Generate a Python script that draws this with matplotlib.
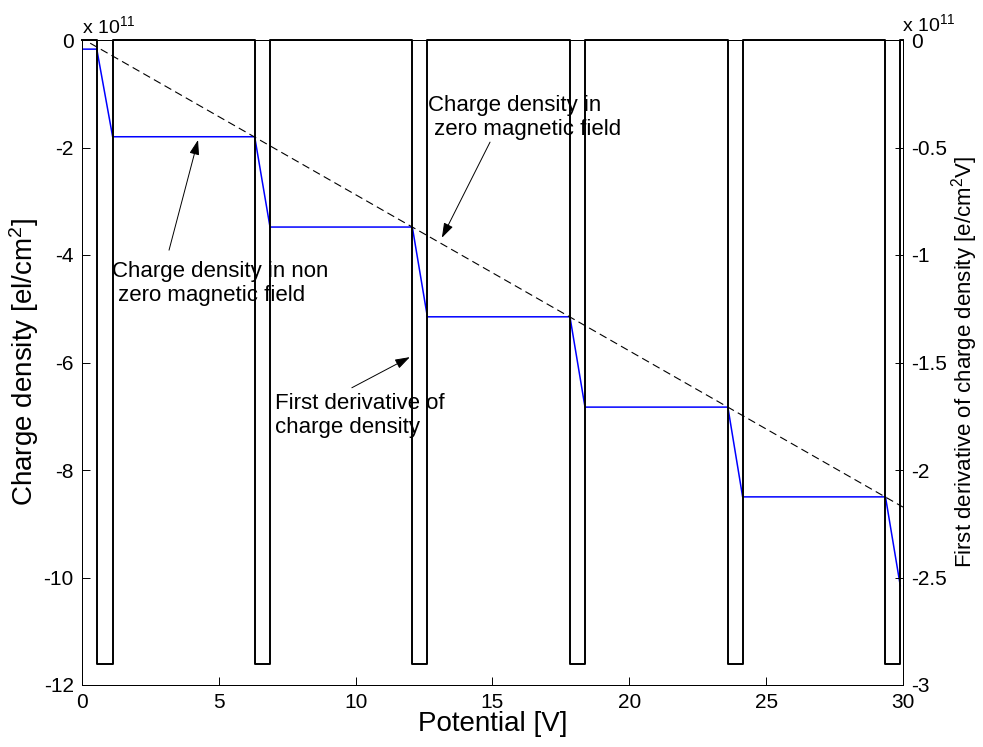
import numpy as np
import matplotlib
matplotlib.use('Agg')
import matplotlib.pyplot as plt

plt.rcParams['font.family'] = ['Liberation Sans', 'DejaVu Sans']
plt.rcParams['mathtext.default'] = 'regular'
plt.rcParams['axes.unicode_minus'] = False

# all charge values in units of 1e11
# charge density in non zero magnetic field (blue steps)
blue_x = [0, 0.54, 1.12, 6.31, 6.87, 12.07, 12.62, 17.83, 18.38, 23.60, 24.14, 29.36, 29.90]
blue_y = [-0.17, -0.17, -1.80, -1.80, -3.48, -3.48, -5.15, -5.15, -6.83, -6.83, -8.50, -8.50, -10.15]

# charge density in zero magnetic field (dashed)
zero_x = [0.3, 30.0]
zero_y = [-0.06, -8.69]

# first derivative of charge density (pulses, right axis)
pulse_left = [0.54, 6.31, 12.07, 17.83, 23.60, 29.36]
pulse_right = [1.12, 6.87, 12.62, 18.38, 24.14, 29.90]
pulse_depth = -2.9

left_ticks = [0, -2, -4, -6, -8, -10, -12]
right_ticks = [0, -0.5, -1, -1.5, -2, -2.5, -3]
x_ticks = [0, 5, 10, 15, 20, 25, 30]

deriv_x = [0]
deriv_y = [0]
for l, r in zip(pulse_left, pulse_right):
    deriv_x += [l, l, r, r]
    deriv_y += [0, pulse_depth, pulse_depth, 0]
deriv_x.append(30)
deriv_y.append(0)

fig = plt.figure(figsize=(9.83, 7.47), dpi=100)
ax1 = fig.add_axes([82/983, 1 - 685/747, 821/983, 645/747])
ax2 = ax1.twinx()

ax1.plot(blue_x, blue_y, color='#0000ff', lw=1.1)
ax1.plot(zero_x, zero_y, color='k', ls=(0, (7, 4)), lw=0.8)
ax2.plot(deriv_x, deriv_y, color='k', lw=1.4, clip_on=False)

ax1.set_xlim(0, 30)
ax1.set_ylim(-12, 0)
ax2.set_ylim(-3, 0)
ax1.set_xticks(x_ticks)
ax1.set_yticks(left_ticks)
ax2.set_yticks(right_ticks)
ax2.set_yticklabels([('%g' % t) for t in right_ticks])

for ax in (ax1, ax2):
    for s in ax.spines.values():
        s.set_linewidth(0.7)
ax1.tick_params(direction='in', length=6, width=0.7, labelsize=15, top=False, right=False, pad=6)
ax2.tick_params(direction='in', length=6, width=0.7, labelsize=15, pad=6)

ax1.set_xlabel('Potential [V]', fontsize=20, labelpad=-1)
ax1.set_ylabel('Charge density [el/cm$^2$]', fontsize=20, labelpad=2)
ax2.set_ylabel('First derivative of charge density [e/cm$^2$V]', fontsize=16, labelpad=1)

fig.text(82/983, 1 - 26/747, 'x 10$^{11}$', fontsize=14, va='center')
fig.text(902/983, 1 - 24/747, 'x 10$^{11}$', fontsize=14, va='center')

arrow = dict(arrowstyle='-|>,head_length=0.6,head_width=0.2', lw=0.7, color='k',
             shrinkA=0, shrinkB=0, mutation_scale=15)

ax1.text(1.10, -4.53, 'Charge density in non\n zero magnetic field', fontsize=16, va='center', ha='left')
ax1.annotate('', xy=(4.24, -1.86), xytext=(3.18, -3.91), arrowprops=arrow)

ax1.text(12.64, -1.44, 'Charge density in\n zero magnetic field', fontsize=16, va='center', ha='left')
ax1.annotate('', xy=(13.15, -3.68), xytext=(14.91, -1.90), arrowprops=arrow)

ax1.text(7.05, -6.98, 'First derivative of\ncharge density', fontsize=16, va='center', ha='left')
ax1.annotate('', xy=(11.98, -5.90), xytext=(9.86, -6.47), arrowprops=arrow)

fig.savefig('out.png', dpi=100)
